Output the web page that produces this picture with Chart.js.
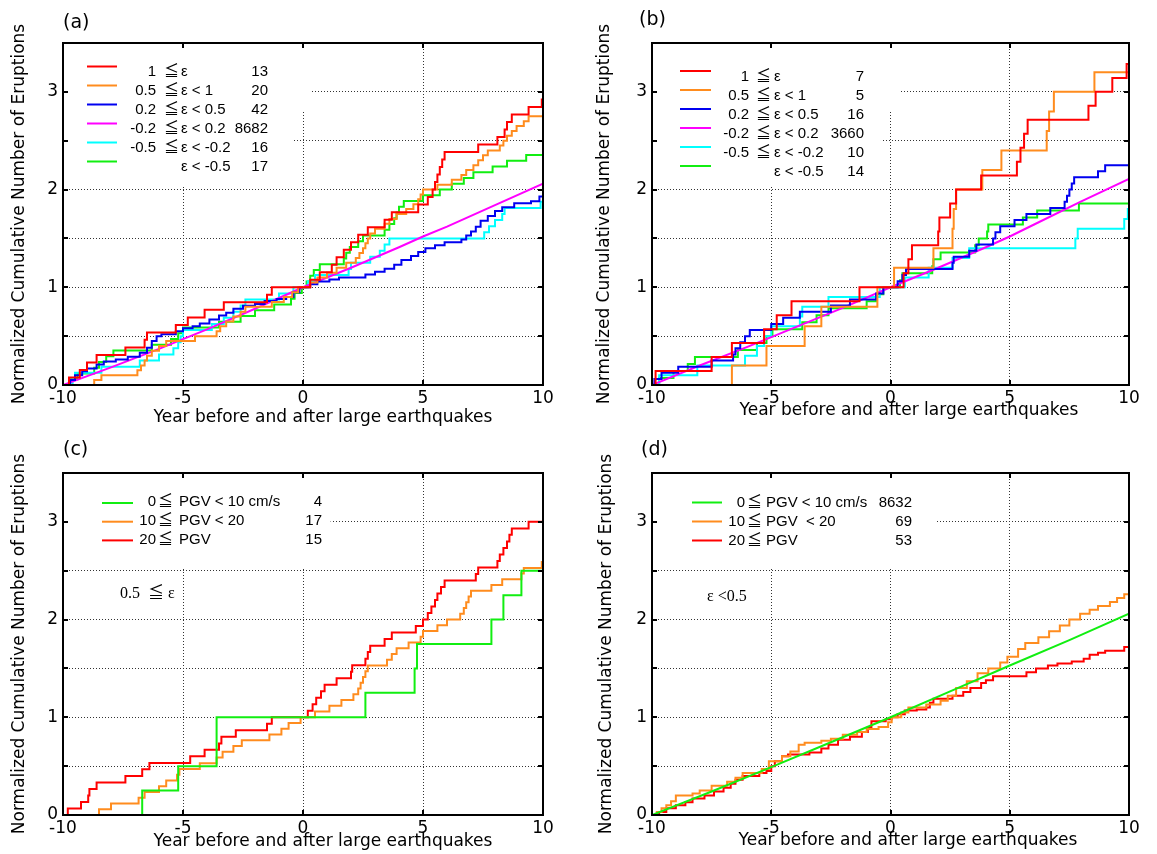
<!DOCTYPE html>
<html lang="en">
<head>
  <meta charset="UTF-8" />
  <title>Normalized Cumulative Number of Eruptions</title>
  <script src="https://cdn.jsdelivr.net/npm/chart.js"></script>
  <style>
    body { margin: 0; background: #fff; }
    canvas { position: absolute; }
  </style>
</head>
<body>
  <canvas id="chartA" style="left:0;top:0"></canvas>
  <canvas id="chartB" style="left:578px;top:0"></canvas>
  <canvas id="chartC" style="left:0;top:430px"></canvas>
  <canvas id="chartD" style="left:578px;top:430px"></canvas>

<script>
  // axis ticks (shared by all panels)
  const xTicks = [-10, -5, 0, 5, 10];
  const xTickText = ['-10', '-5', '0', '5', '10'];
  const yTicks = [0, 0.5, 1, 1.5, 2, 2.5, 3];
  const yTickText = ['0', '', '1', '', '2', '', '3'];
  const xTitle = 'Year before and after large earthquakes';
  const yTitle = 'Normalized Cumulative Number of Eruptions';

  // (a) eruptions by epsilon range  [year, normalized cumulative count]
  const aRed = [[-10,0],[-9.75,0.077],[-9.3,0.154],[-9.0,0.231],[-8.6,0.308],[-7.4,0.385],[-6.6,0.462],[-6.5,0.538],[-5.3,0.615],[-4.8,0.692],[-4.1,0.769],[-3.3,0.846],[-1.5,0.923],[-1.3,1.0],
    [0.3,1.077],[0.7,1.154],[1.2,1.231],[1.4,1.308],[1.7,1.385],[2.0,1.462],[2.3,1.538],[2.7,1.615],[3.4,1.692],[3.7,1.769],[4.8,1.846],[5.2,1.923],[5.4,2.0],[5.5,2.077],[5.6,2.154],[5.7,2.231],[5.8,2.308],[5.9,2.385],[7.3,2.462],[8.1,2.538],[8.4,2.615],[8.5,2.692],[8.7,2.769],[9.4,2.846],[9.95,2.923],[10,2.923]];
  const aOrange = [[-10,0],[-8.7,0.05],[-8.4,0.1],[-6.9,0.15],[-6.75,0.2],[-6.6,0.25],[-6.5,0.3],[-6.3,0.35],[-6.0,0.4],[-5.7,0.45],[-4.5,0.5],[-3.6,0.55],[-3.45,0.6],[-3.2,0.65],[-2.9,0.7],[-2.6,0.75],[-2.4,0.8],[-1.3,0.85],[-0.8,0.9],[-0.45,0.95],[-0.2,1.0],
    [0.3,1.05],[0.6,1.1],[1.0,1.15],[1.4,1.2],[1.8,1.25],[2.2,1.3],[2.35,1.35],[2.5,1.4],[2.6,1.45],[2.7,1.5],[2.8,1.55],[3.0,1.6],[3.4,1.65],[3.6,1.7],[3.9,1.75],[4.3,1.8],[4.6,1.85],[4.8,1.9],[4.9,1.95],[5.0,2.0],[5.6,2.05],[6.2,2.1],[6.6,2.15],[6.8,2.2],[7.1,2.25],[7.3,2.3],[7.5,2.35],[7.7,2.4],[8.2,2.45],[8.35,2.5],[8.5,2.55],[8.7,2.6],[8.9,2.65],[9.2,2.7],[9.4,2.75],[10,2.75]];
  const aBlue = [[-10,0],[-9.7,0.05],[-9.5,0.1],[-9.2,0.14],[-9.0,0.17],[-8.6,0.21],[-8.3,0.24],[-7.8,0.26],[-7.3,0.29],[-6.8,0.33],[-6.5,0.38],[-6.3,0.45],[-6.1,0.5],[-5.9,0.52],[-5.3,0.55],[-5.0,0.58],[-4.6,0.6],[-4.3,0.63],[-3.9,0.67],[-3.5,0.71],[-3.2,0.74],[-2.9,0.78],[-2.5,0.81],[-2.0,0.83],[-1.6,0.86],[-1.1,0.88],[-0.7,0.9],[-0.4,0.95],[-0.15,1.0],
    [0.3,1.03],[0.6,1.06],[1.1,1.08],[1.5,1.1],[2.6,1.13],[3.0,1.16],[3.4,1.19],[3.8,1.23],[4.1,1.28],[4.5,1.32],[4.8,1.36],[5.1,1.4],[5.5,1.43],[5.9,1.46],[6.6,1.49],[6.8,1.53],[7.0,1.57],[7.2,1.62],[7.4,1.68],[7.7,1.73],[8.0,1.78],[8.3,1.82],[8.8,1.86],[9.5,1.88],[9.85,1.93],[10,1.94]];
  const aMagenta = [[-10,0],[-8,0.18],[-6,0.37],[-5,0.47],[-4,0.57],[-2,0.78],[0,1.0],[2,1.2],[4,1.41],[5,1.52],[6,1.62],[8,1.84],[10,2.06]];
  const aCyan = [[-10,0],[-9.6,0.0625],[-9.5,0.125],[-8.4,0.1875],[-6.8,0.25],[-6.0,0.3125],[-5.4,0.375],[-5.2,0.4375],[-5.1,0.5],[-5.0,0.5625],[-3.8,0.625],[-3.3,0.6875],[-2.9,0.75],[-2.6,0.8125],[-2.4,0.875],[-1.0,0.9375],[-0.4,1.0],
    [0.2,1.0625],[0.5,1.125],[1.9,1.1875],[2.0,1.25],[2.8,1.3125],[3.2,1.375],[3.4,1.4375],[3.6,1.5],[7.55,1.5625],[7.75,1.625],[8.0,1.6875],[8.3,1.75],[8.4,1.8125],[9.9,1.875],[10,1.94]];
  const aGreen = [[-10,0],[-9.7,0.059],[-9.4,0.118],[-8.7,0.176],[-8.5,0.235],[-8.2,0.294],[-7.9,0.353],[-6.3,0.412],[-5.5,0.471],[-5.2,0.529],[-5.0,0.588],[-3.5,0.647],[-2.6,0.706],[-2.0,0.765],[-1.2,0.824],[-0.5,0.882],[-0.35,0.941],[-0.05,1.0],
    [0.15,1.059],[0.3,1.118],[0.45,1.176],[0.7,1.235],[1.7,1.294],[1.8,1.353],[1.95,1.412],[2.3,1.471],[2.5,1.529],[3.4,1.588],[3.6,1.647],[3.8,1.706],[3.9,1.765],[4.0,1.824],[4.2,1.882],[5.0,1.941],[5.7,2.0],[6.2,2.059],[6.7,2.118],[7.1,2.176],[7.9,2.235],[8.5,2.294],[9.3,2.353],[10,2.353]];
  const aLower = ['1', '0.5', '0.2', '-0.2', '-0.5', ''];
  const aUpper = ['ε', 'ε < 1', 'ε < 0.5', 'ε < 0.2', 'ε < -0.2', 'ε < -0.5'];
  const aCounts = ['13', '20', '42', '8682', '16', '17'];

  // (b)
  const bRed = [[-10,0],[-9.85,0.143],[-7.5,0.286],[-6.65,0.429],[-5.3,0.571],[-4.77,0.714],[-4.15,0.857],[-1.3,1.0],
    [0.55,1.143],[0.75,1.286],[0.9,1.429],[2.0,1.571],[2.05,1.714],[2.5,1.857],[2.75,2.0],[3.8,2.143],[5.3,2.286],[5.45,2.429],[5.6,2.571],[5.75,2.714],[8.3,2.857],[8.6,3.0],[9.3,3.143],[9.9,3.286],[10,3.286]];
  const bOrange = [[-10,0],[-6.65,0.2],[-5.2,0.4],[-3.6,0.6],[-2.9,0.8],[-0.55,1.0],
    [0.15,1.2],[1.8,1.4],[2.6,1.6],[2.65,1.8],[2.75,2.0],[3.85,2.2],[4.65,2.4],[6.55,2.6],[6.65,2.8],[6.85,3.0],[8.55,3.2],[10,3.2]];
  const bBlue = [[-10,0],[-9.9,0.0625],[-9.6,0.125],[-8.9,0.1875],[-7.5,0.25],[-6.6,0.3125],[-6.5,0.375],[-6.3,0.4375],[-6.1,0.5],[-5.9,0.5625],[-5.0,0.625],[-4.5,0.6875],[-3.8,0.75],[-2.5,0.8125],[-1.7,0.875],[-0.6,0.9375],[-0.3,1.0],
    [0.3,1.0625],[0.5,1.125],[0.65,1.1875],[2.6,1.25],[2.65,1.3125],[3.3,1.375],[3.6,1.4375],[4.3,1.5],[4.4,1.5625],[4.6,1.625],[5.2,1.6875],[5.7,1.75],[6.7,1.8125],[7.3,1.875],[7.4,1.9375],[7.5,2.0],[7.6,2.0625],[7.7,2.125],[8.7,2.1875],[9.0,2.25],[10,2.25]];
  const bMagenta = [[-10,0],[-8,0.2],[-6,0.39],[-5,0.49],[-4,0.59],[-2,0.79],[0,1.0],[2,1.2],[4,1.41],[5,1.52],[6,1.64],[8,1.88],[10,2.11]];
  const bCyan = [[-10,0],[-9.7,0.1],[-8.1,0.2],[-6.1,0.3],[-5.6,0.4],[-5.3,0.5],[-5.0,0.6],[-3.8,0.7],[-3.7,0.8],[-2.6,0.9],[-0.45,1.0],
    [0.6,1.1],[1.6,1.2],[2.6,1.3],[3.3,1.4],[7.75,1.5],[7.85,1.6],[9.8,1.7],[9.95,1.8],[10,1.8]];
  const bGreen = [[-10,0],[-9.7,0.071],[-9.1,0.143],[-8.5,0.214],[-8.2,0.286],[-6.4,0.357],[-5.6,0.429],[-5.2,0.5],[-4.95,0.571],[-3.7,0.643],[-3.1,0.714],[-2.6,0.786],[-1.0,0.857],[-0.6,0.929],[-0.3,1.0],
    [0.4,1.071],[0.5,1.143],[1.75,1.214],[1.8,1.286],[2.1,1.357],[3.55,1.429],[3.7,1.5],[4.05,1.571],[4.1,1.643],[5.55,1.714],[6.15,1.786],[7.9,1.857],[10,1.857]];
  const bLower = ['1', '0.5', '0.2', '-0.2', '-0.5', ''];
  const bUpper = ['ε', 'ε < 1', 'ε < 0.5', 'ε < 0.2', 'ε < -0.2', 'ε < -0.5'];
  const bCounts = ['7', '5', '16', '3660', '10', '14'];

  // (c) 0.5 <= epsilon, by PGV
  const cGreen = [[-10,0],[-6.7,0.25],[-5.2,0.5],[-3.6,0.75],[-3.6,1.0],[2.6,1.25],[4.65,1.5],[4.75,1.75],[7.85,2.0],[8.35,2.25],[9.1,2.5],[10,2.75]];
  const cOrange = [[-10,0],[-8.5,0.059],[-8.0,0.118],[-6.85,0.176],[-6.6,0.235],[-6.0,0.294],[-5.7,0.353],[-5.25,0.412],[-5.15,0.471],[-4.3,0.529],[-3.6,0.588],[-3.35,0.647],[-2.9,0.706],[-2.55,0.765],[-1.4,0.824],[-0.9,0.882],[-0.6,0.941],[-0.1,1.0],
    [0.5,1.059],[1.1,1.118],[1.6,1.176],[2.1,1.235],[2.3,1.294],[2.4,1.353],[2.5,1.412],[2.6,1.471],[2.7,1.529],[3.5,1.588],[3.7,1.647],[3.9,1.706],[4.4,1.765],[4.9,1.824],[5.0,1.882],[5.6,1.941],[6.0,2.0],[6.55,2.059],[6.7,2.118],[6.8,2.176],[6.9,2.235],[7.0,2.294],[7.85,2.353],[8.3,2.412],[9.1,2.471],[9.2,2.529],[9.95,2.588],[10,2.588]];
  const cRed = [[-10,0],[-9.8,0.067],[-9.25,0.133],[-8.95,0.2],[-8.9,0.267],[-8.6,0.333],[-7.4,0.4],[-6.7,0.467],[-6.4,0.533],[-4.7,0.6],[-4.1,0.667],[-3.5,0.733],[-3.4,0.8],[-2.8,0.867],[-1.5,0.933],[-1.3,1.0],
    [0.2,1.067],[0.4,1.133],[0.55,1.2],[0.75,1.267],[0.9,1.333],[1.4,1.4],[2.0,1.467],[2.05,1.533],[2.6,1.6],[2.7,1.667],[2.8,1.733],[3.4,1.8],[3.7,1.867],[4.7,1.933],[5.0,2.0],[5.2,2.067],[5.35,2.133],[5.5,2.2],[5.6,2.267],[5.75,2.333],[5.9,2.4],[7.2,2.467],[7.3,2.533],[8.1,2.6],[8.2,2.667],[8.35,2.733],[8.5,2.8],[8.6,2.867],[8.7,2.933],[9.4,3.0],[10,3.0]];
  const cLower = ['0', '10', '20'];
  const cUpper = ['PGV < 10 cm/s', 'PGV < 20', 'PGV'];
  const cCounts = ['4', '17', '15'];

  // (d) epsilon < 0.5, by PGV
  const dGreen = [[-10,0],[-7.5,0.24],[-5,0.49],[-2.5,0.745],[0,1.0],[2.5,1.265],[5,1.53],[7.5,1.79],[10,2.06]];
  const dOrange = [[-10,0],[-9.8,0.03],[-9.6,0.07],[-9.4,0.1],[-9.2,0.14],[-9.0,0.2],[-8.3,0.22],[-8.0,0.25],[-7.5,0.3],[-6.85,0.34],[-6.5,0.38],[-6.2,0.43],[-5.4,0.47],[-5.1,0.55],[-4.55,0.6],[-4.2,0.65],[-3.85,0.72],[-3.6,0.74],[-2.9,0.76],[-2.5,0.78],[-2.0,0.82],[-1.4,0.85],[-1.0,0.88],[-0.5,0.9],[-0.1,0.95],[0.05,1.0],
    [0.45,1.05],[0.75,1.1],[1.5,1.13],[2.1,1.17],[2.4,1.22],[2.75,1.3],[3.2,1.37],[3.65,1.45],[4.1,1.5],[4.6,1.56],[4.9,1.62],[5.35,1.7],[5.65,1.76],[6.2,1.82],[6.65,1.88],[7.1,1.94],[7.5,2.0],[7.95,2.06],[8.35,2.1],[8.7,2.14],[9.2,2.18],[9.5,2.22],[9.8,2.26],[10,2.3]];
  const dRed = [[-10,0],[-9.7,0.03],[-9.4,0.07],[-9.0,0.1],[-8.6,0.13],[-8.3,0.17],[-7.8,0.2],[-7.4,0.24],[-7.0,0.28],[-6.7,0.32],[-6.5,0.36],[-6.2,0.4],[-5.5,0.43],[-5.2,0.45],[-5.0,0.5],[-4.85,0.55],[-4.55,0.6],[-4.3,0.62],[-3.4,0.64],[-2.9,0.68],[-2.6,0.72],[-2.2,0.77],[-1.7,0.8],[-1.2,0.85],[-0.95,0.9],[-0.8,0.96],[-0.2,0.98],[0.05,1.0],
    [0.3,1.03],[0.6,1.07],[1.1,1.08],[1.5,1.1],[1.65,1.15],[1.8,1.19],[2.6,1.22],[3.05,1.26],[3.35,1.3],[3.8,1.35],[4.0,1.38],[4.3,1.42],[5.7,1.46],[6.1,1.5],[6.6,1.53],[7.0,1.55],[7.6,1.57],[8.1,1.6],[8.35,1.64],[8.7,1.66],[9.0,1.68],[9.8,1.72],[10,1.72]];
  const dLower = ['0', '10', '20'];
  const dUpper = ['PGV < 10 cm/s', 'PGV  < 20', 'PGV'];
  const dCounts = ['8632', '69', '53'];

  const RED = '#ff0000', ORANGE = '#ff8c1e', BLUE = '#0000f0', MAGENTA = '#ff00ff', CYAN = '#00ffff', GREEN = '#11ee11';

  const tickFont = { family: 'DejaVu Sans', size: 17 };
  const titleFont = { family: 'DejaVu Sans', size: 17 };
  const legendFont = '15px "Liberation Sans", "Noto Sans CJK JP"';
  const noteFont = '16px "Liberation Serif", "Noto Sans CJK JP"';
  const letterFont = '19px "DejaVu Sans"';

  // draws the frame, inward ticks, legend box, panel letter and x title
  const panelDecor = {
    id: 'panelDecor',
    beforeDatasetsDraw(chart, args, o) {
      const { ctx, scales: { x, y } } = chart;
      ctx.save();
      ctx.fillStyle = '#fff';
      o.masks.forEach(m => {
        const x0 = x.getPixelForValue(m[0]), x1 = x.getPixelForValue(m[1]);
        const y0 = y.getPixelForValue(m[3]), y1 = y.getPixelForValue(m[2]);
        ctx.fillRect(x0, y0, x1 - x0, y1 - y0);
      });
      ctx.restore();
    },
    afterDraw(chart, args, o) {
      const { ctx, chartArea: a, scales: { x, y } } = chart;
      ctx.save();
      ctx.strokeStyle = '#000';
      ctx.lineWidth = 2;
      ctx.strokeRect(a.left, a.top, a.right - a.left, a.bottom - a.top);
      ctx.beginPath();
      xTicks.slice(1, -1).forEach(v => {
        const px = Math.round(x.getPixelForValue(v));
        ctx.moveTo(px, a.bottom); ctx.lineTo(px, a.bottom - 5);
        ctx.moveTo(px, a.top); ctx.lineTo(px, a.top + 5);
      });
      yTicks.slice(1).forEach(v => {
        const py = Math.round(y.getPixelForValue(v));
        ctx.moveTo(a.left, py); ctx.lineTo(a.left + 5, py);
        ctx.moveTo(a.right, py); ctx.lineTo(a.right - 5, py);
      });
      ctx.stroke();

      const L = o.legend;
      ctx.font = legendFont;
      ctx.textBaseline = 'middle';
      ctx.fillStyle = '#000';
      L.colors.forEach((c, i) => {
        const ry = L.y0 + i * L.step;
        ctx.strokeStyle = c;
        ctx.lineWidth = 2;
        ctx.beginPath();
        ctx.moveTo(a.left + L.line[0], ry + L.lineDy);
        ctx.lineTo(a.left + L.line[1], ry + L.lineDy);
        ctx.stroke();
        ctx.textAlign = 'right';
        ctx.fillText(L.lower[i], a.left + L.lowerX, ry);
        ctx.textAlign = 'left';
        if (L.lower[i]) ctx.fillText('≦', a.left + L.relX, ry);
        ctx.fillText(L.upper[i], a.left + L.upperX, ry);
        ctx.textAlign = 'right';
        ctx.fillText(L.counts[i], a.left + L.countX, ry);
      });

      ctx.textAlign = 'left';
      ctx.font = noteFont;
      ctx.fillText(o.note.text, o.note.x, o.note.y);
      ctx.font = letterFont;
      ctx.fillText(o.letter.text, o.letter.x, o.letter.y);
      ctx.textAlign = 'center';
      ctx.font = titleFont.size + 'px "' + titleFont.family + '"';
      ctx.fillText(xTitle, o.xTitlePos[0], o.xTitlePos[1]);
      ctx.restore();
    }
  };

  function makePanel(p) {
    const canvas = document.getElementById(p.id);
    canvas.width = p.width;
    canvas.height = p.height;
    return new Chart(canvas, {
      type: 'line',
      data: {
        datasets: p.series.map(s => ({
          data: s.data.map(([x, y]) => ({ x, y })),
          borderColor: s.color,
          borderWidth: 2,
          pointRadius: 0,
          stepped: s.stepped,
          tension: 0,
          fill: false
        }))
      },
      options: {
        responsive: false,
        animation: false,
        devicePixelRatio: 1,
        layout: { padding: { top: p.area.top, right: p.width - p.area.right, left: 0, bottom: 0 } },
        plugins: {
          legend: { display: false },
          tooltip: { enabled: false },
          panelDecor: p.decor
        },
        scales: {
          x: {
            type: 'linear', min: -10, max: 10,
            afterBuildTicks: s => { s.ticks = xTicks.map(v => ({ value: v })); },
            afterFit: s => { s.height = p.height - p.area.bottom; },
            ticks: { font: tickFont, color: '#000', padding: 3, maxRotation: 0, autoSkip: false,
              callback: v => xTickText[xTicks.indexOf(v)] },
            grid: { color: '#333', lineWidth: 1, drawTicks: false },
            border: { display: false, dash: [1, 2] }
          },
          y: {
            type: 'linear', min: 0, max: 3.5,
            afterBuildTicks: s => { s.ticks = yTicks.map(v => ({ value: v })); },
            afterFit: s => { s.width = p.area.left; },
            ticks: { font: tickFont, color: '#000', padding: 5, autoSkip: false,
              callback: (v, i) => yTickText[i] },
            grid: { color: '#333', lineWidth: 1, drawTicks: false },
            border: { display: false, dash: [1, 2] },
            title: { display: true, text: yTitle, color: '#000', font: titleFont,
              padding: { top: p.yTitlePad, bottom: 0 } }
          }
        }
      },
      plugins: [panelDecor]
    });
  }

  const epsColors = [RED, ORANGE, BLUE, MAGENTA, CYAN, GREEN];
  const pgvColors = [GREEN, ORANGE, RED];

  makePanel({
    id: 'chartA', width: 578, height: 430, yTitlePad: 9,
    area: { left: 63, top: 43, right: 543, bottom: 385 },
    series: [
      { data: aRed, color: RED, stepped: true },
      { data: aOrange, color: ORANGE, stepped: true },
      { data: aBlue, color: BLUE, stepped: true },
      { data: aMagenta, color: MAGENTA, stepped: false },
      { data: aCyan, color: CYAN, stepped: true },
      { data: aGreen, color: GREEN, stepped: true }
    ],
    decor: {
      masks: [[-10, 0.35, 2.8, 3.5], [-10, -0.4, 2.03, 2.8]],
      legend: { colors: epsColors, lower: aLower, upper: aUpper, counts: aCounts,
        line: [24, 54], lineDy: -5, lowerX: 93, relX: 101, upperX: 118, countX: 205, y0: 71.5, step: 19 },
      note: { text: '', x: 0, y: 0 },
      letter: { text: '(a)', x: 63, y: 23 },
      xTitlePos: [323, 418]
    }
  });

  makePanel({
    id: 'chartB', width: 579, height: 430, yTitlePad: 16,
    area: { left: 74, top: 43, right: 551, bottom: 385 },
    series: [
      { data: bRed, color: RED, stepped: true },
      { data: bOrange, color: ORANGE, stepped: true },
      { data: bBlue, color: BLUE, stepped: true },
      { data: bMagenta, color: MAGENTA, stepped: false },
      { data: bCyan, color: CYAN, stepped: true },
      { data: bGreen, color: GREEN, stepped: true }
    ],
    decor: {
      masks: [[-10, 0.4, 2.8, 3.5], [-10, -0.4, 2.03, 2.8]],
      legend: { colors: epsColors, lower: bLower, upper: bUpper, counts: bCounts,
        line: [28, 59], lineDy: -5.5, lowerX: 97, relX: 104, upperX: 122, countX: 212, y0: 76.5, step: 19 },
      note: { text: '', x: 0, y: 0 },
      letter: { text: '(b)', x: 61, y: 20 },
      xTitlePos: [331, 411]
    }
  });

  makePanel({
    id: 'chartC', width: 578, height: 424, yTitlePad: 9,
    area: { left: 63, top: 43, right: 543, bottom: 385 },
    series: [
      { data: cGreen, color: GREEN, stepped: true },
      { data: cOrange, color: ORANGE, stepped: true },
      { data: cRed, color: RED, stepped: true }
    ],
    decor: {
      masks: [[-10, 1.15, 2.53, 3.5]],
      legend: { colors: pgvColors, lower: cLower, upper: cUpper, counts: cCounts,
        line: [39, 70], lineDy: 1, lowerX: 93, relX: 95, upperX: 116, countX: 259, y0: 72, step: 18.7 },
      note: { text: '0.5  ≦ ε', x: 120, y: 164 },
      letter: { text: '(c)', x: 63, y: 20 },
      xTitlePos: [323, 412]
    }
  });

  makePanel({
    id: 'chartD', width: 579, height: 424, yTitlePad: 18,
    area: { left: 74, top: 43, right: 551, bottom: 385 },
    series: [
      { data: dGreen, color: GREEN, stepped: false },
      { data: dOrange, color: ORANGE, stepped: true },
      { data: dRed, color: RED, stepped: true }
    ],
    decor: {
      masks: [[-10, 1.95, 2.53, 3.5]],
      legend: { colors: pgvColors, lower: dLower, upper: dUpper, counts: dCounts,
        line: [40, 70], lineDy: 0, lowerX: 93, relX: 95, upperX: 114, countX: 260, y0: 72.5, step: 19 },
      note: { text: 'ε <0.5', x: 129, y: 167 },
      letter: { text: '(d)', x: 63, y: 20 },
      xTitlePos: [330, 411]
    }
  });
</script>
</body>
</html>
